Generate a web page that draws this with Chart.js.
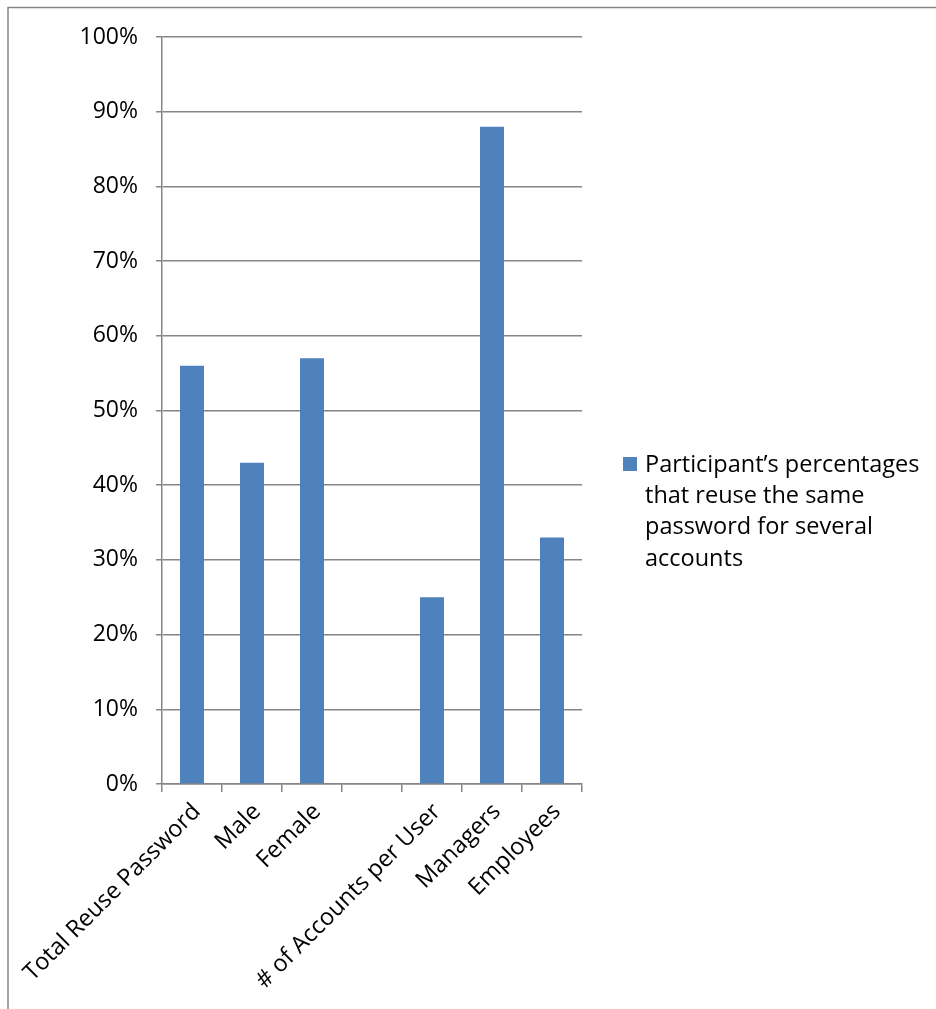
<!DOCTYPE html>
<html>
<head>
<meta charset="utf-8">
<script src="https://cdn.jsdelivr.net/npm/chart.js@4/dist/chart.umd.min.js"></script>
<style>
  html, body { margin: 0; padding: 0; background: #fff; }
  #wrap { position: relative; width: 936px; height: 1009px; }
</style>
</head>
<body>
<div id="wrap"><canvas id="c" width="936" height="1009"></canvas></div>
<script>
const categories = ["Total Reuse Password", "Male", "Female", "", "# of Accounts per User", "Managers", "Employees"];
const values = [56, 43, 57, null, 25, 88, 33];
const seriesLabel = ["Participant\u2019s percentages", "that reuse the same", "password for several", "accounts"];
const yTicks = [0, 10, 20, 30, 40, 50, 60, 70, 80, 90, 100];

const FONT = "'Open Sans', 'Noto Sans', sans-serif";
const GRID = '#868686';
const BAR = '#4F81BD';

const framePlugin = {
  id: 'frame',
  beforeDraw(chart) {
    const ctx = chart.ctx;
    ctx.save();
    ctx.fillStyle = '#fff';
    ctx.fillRect(0, 0, chart.width, chart.height);
    ctx.strokeStyle = GRID;
    ctx.lineWidth = 1.5;
    ctx.beginPath();
    ctx.moveTo(8, chart.height);
    ctx.lineTo(8, 7.5);
    ctx.lineTo(chart.width, 7.5);
    ctx.stroke();
    ctx.restore();
  }
};

const legendPlugin = {
  id: 'sideLegend',
  afterDraw(chart) {
    const ctx = chart.ctx;
    const ds = chart.data.datasets[0];
    const lines = ds.legendLines;
    const x0 = chart.chartArea.right + 41;
    const lineH = 31.3;
    const yStart = 465;
    ctx.save();
    ctx.fillStyle = ds.backgroundColor;
    ctx.fillRect(x0, yStart - 8, 14, 14);
    ctx.fillStyle = '#000';
    ctx.font = '23.5px ' + FONT;
    ctx.textBaseline = 'middle';
    ctx.textAlign = 'left';
    lines.forEach((t, i) => ctx.fillText(t, x0 + 22, yStart + i * lineH));
    ctx.restore();
  }
};

new Chart(document.getElementById('c'), {
  type: 'bar',
  data: {
    labels: categories,
    datasets: [{
      label: seriesLabel.join(' '),
      legendLines: seriesLabel,
      data: values,
      backgroundColor: BAR,
      borderWidth: 0,
      barPercentage: 0.4,
      categoryPercentage: 1.0
    }]
  },
  options: {
    responsive: false,
    animation: false,
    devicePixelRatio: 1,
    layout: { padding: { top: 37, right: 354, left: 0, bottom: 0 } },
    plugins: { legend: { display: false }, tooltip: { enabled: false } },
    scales: {
      x: {
        offset: true,
        afterFit(s) { s.height = 225; },
        grid: { display: true, drawOnChartArea: false, drawTicks: true, tickLength: 8, offset: true, color: GRID, lineWidth: 1.5 },
        border: { display: true, color: GRID, width: 1.5 },
        ticks: { color: '#000', font: { family: FONT, size: 23.5 }, minRotation: 45, maxRotation: 45, autoSkip: false, padding: 6, labelOffset: 5 }
      },
      y: {
        min: 0, max: 100,
        afterFit(s) { s.width = 162; },
        afterBuildTicks(s) { s.ticks = yTicks.map(v => ({ value: v })); },
        grid: { color: GRID, lineWidth: 1.5, tickLength: 6, drawTicks: true },
        border: { display: true, color: GRID, width: 1.5 },
        ticks: { color: '#000', font: { family: FONT, size: 23 }, padding: 18, callback: v => v + '%' }
      }
    }
  },
  plugins: [framePlugin, legendPlugin]
});
</script>
</body>
</html>
